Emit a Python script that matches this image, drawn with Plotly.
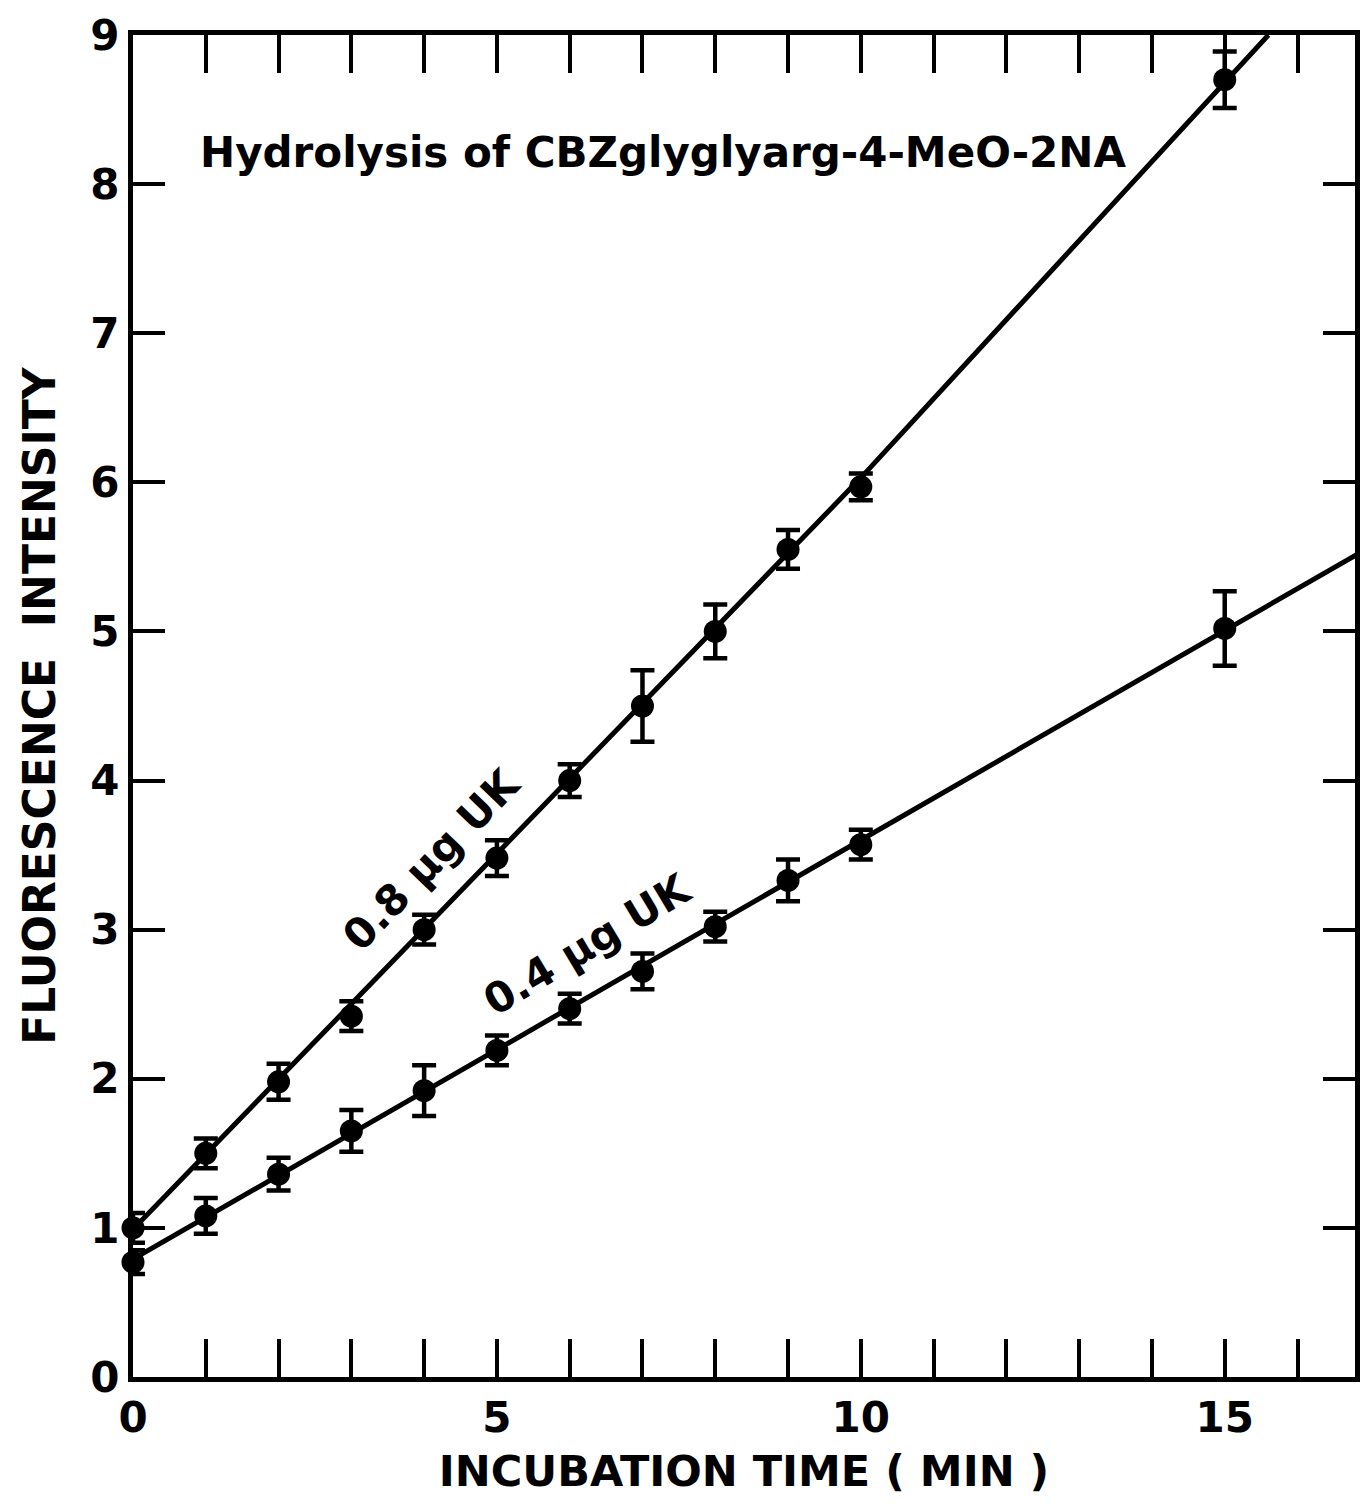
import plotly.graph_objects as go

# Data
time_min = [0, 1, 2, 3, 4, 5, 6, 7, 8, 9, 10, 15]
uk08 = [1.00, 1.50, 1.98, 2.42, 3.00, 3.48, 4.00, 4.50, 5.00, 5.55, 5.97, 8.70]
uk08_err = [0.10, 0.10, 0.12, 0.10, 0.10, 0.12, 0.11, 0.24, 0.18, 0.13, 0.09, 0.19]
uk04 = [0.77, 1.08, 1.36, 1.65, 1.92, 2.19, 2.47, 2.72, 3.02, 3.33, 3.57, 5.02]
uk04_err = [0.08, 0.12, 0.11, 0.14, 0.17, 0.10, 0.10, 0.12, 0.10, 0.14, 0.10, 0.25]

# Hand-drawn lines
fit08_x = [0, 10, 15.6]
fit08_y = [0.99, 6.03, 9.0]
fit04_x = [0, 16.9]
fit04_y = [0.79, 5.54]

x_ticks = list(range(0, 17))
x_ticklabels = ["0", "", "", "", "", "5", "", "", "", "", "10", "", "", "", "", "15", ""]
y_ticks = list(range(0, 10))

FONT = "DejaVu Sans"
LW = 5
NB = "\u00a0"

fig = go.Figure()
fig.add_trace(go.Scatter(x=fit08_x, y=fit08_y, mode="lines",
                         line=dict(color="black", width=LW), showlegend=False))
fig.add_trace(go.Scatter(x=fit04_x, y=fit04_y, mode="lines",
                         line=dict(color="black", width=LW), showlegend=False))
fig.add_trace(go.Scatter(x=time_min, y=uk08, mode="markers",
                         marker=dict(color="black", size=23),
                         error_y=dict(type="data", array=uk08_err, color="black",
                                      thickness=4.5, width=12),
                         showlegend=False, cliponaxis=False))
fig.add_trace(go.Scatter(x=time_min, y=uk04, mode="markers",
                         marker=dict(color="black", size=23),
                         error_y=dict(type="data", array=uk04_err, color="black",
                                      thickness=4.5, width=12),
                         showlegend=False, cliponaxis=False))

fig.update_layout(
    width=1355, height=1488,
    margin=dict(l=125, r=3, t=24, b=118),
    paper_bgcolor="white", plot_bgcolor="white",
    font=dict(family=FONT, size=42, color="black", weight="bold"),
    xaxis=dict(range=[0, 16.79], tickvals=x_ticks, ticktext=x_ticklabels,
               ticks="inside", ticklen=38, tickwidth=4, tickcolor="black",
               showline=True, linewidth=LW, linecolor="black", mirror="ticks",
               showgrid=False, zeroline=False, ticklabeloverflow="allow",
               tickfont=dict(size=42, weight="bold"),
               title=dict(text="INCUBATION" + NB + "TIME" + NB + "(" + NB + "MIN" + NB + ")",
                          font=dict(size=43, weight="bold"), standoff=20)),
    yaxis=dict(range=[0, 9], tickvals=y_ticks,
               ticks="inside", ticklen=32, tickwidth=4, tickcolor="black",
               showline=True, linewidth=LW, linecolor="black", mirror="ticks",
               showgrid=False, zeroline=False, ticklabeloverflow="allow",
               tickfont=dict(size=42, weight="bold"),
               title=dict(text="FLUORESCENCE" + NB + NB + "INTENSITY",
                          font=dict(size=44, weight="bold"), standoff=22)),
    annotations=[
        dict(x=7.28, y=8.21, xref="x", yref="y", text="Hydrolysis of CBZglyglyarg-4-MeO-2NA",
             showarrow=False, font=dict(size=42, family=FONT, weight="bold")),
        dict(x=4.10, y=3.47, xref="x", yref="y", text="0.8 µg UK", textangle=-46,
             showarrow=False, font=dict(size=42, family=FONT, weight="bold")),
        dict(x=6.24, y=2.90, xref="x", yref="y", text="0.4 µg UK", textangle=-31,
             showarrow=False, font=dict(size=42, family=FONT, weight="bold")),
    ],
)

fig.write_html("out.html")
